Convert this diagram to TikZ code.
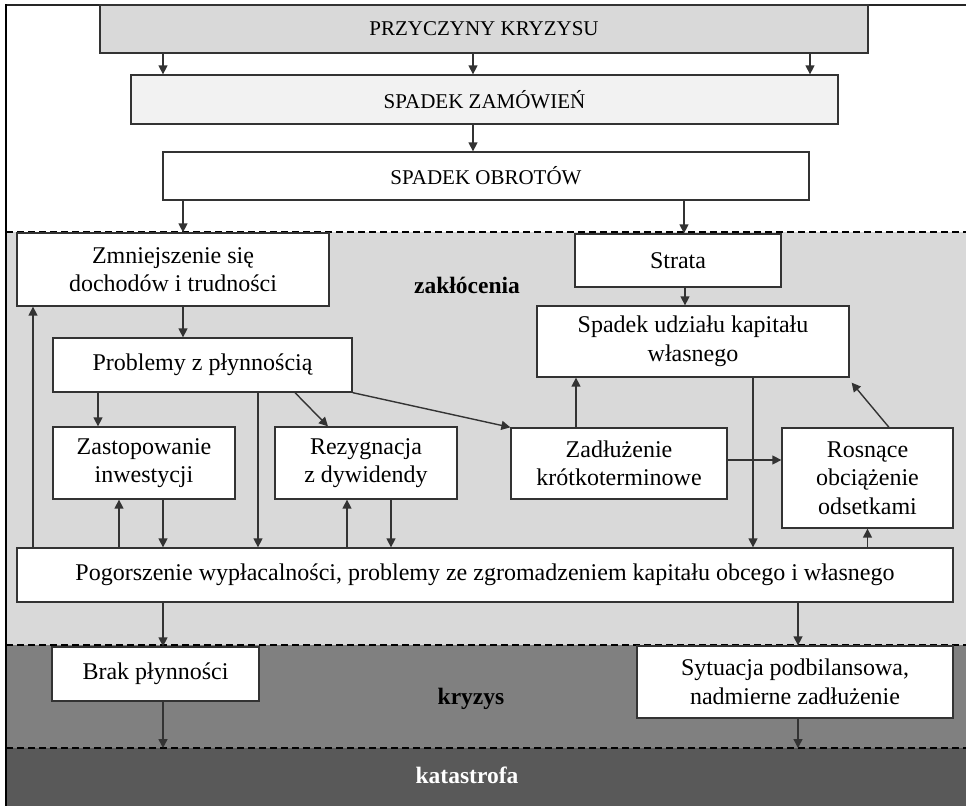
\documentclass[tikz,border=0pt]{standalone}
\usepackage{fontspec}
\setmainfont{Liberation Serif}
\usetikzlibrary{arrows.meta,calc}
\colorlet{colorLine}{black!80}
\colorlet{colorZakl}{gray!30}
\colorlet{colorKryz}{gray}
\colorlet{colorKat}{black!65}
\tikzset{
   every path/.style={>={Triangle[length=9pt,width=9pt]}},
   blok/.style={draw=colorLine,line width=1.3pt,fill=white,align=center,inner sep=0pt,font=\fontsize{24}{28.5}\selectfont},
   gorny/.style={blok,font=\fontsize{21}{25}\selectfont},
   strz/.style={->,draw=colorLine,line width=1.4pt},
   granica/.style={draw=black,line width=1.6pt,dash pattern=on 7pt off 4pt},
   etyk/.style={anchor=base,inner sep=0pt,font=\bfseries\fontsize{23.5}{28}\selectfont},
}
\begin{document}
\begin{tikzpicture}[x=1pt,y=-1pt]
      \useasboundingbox (0,0) rectangle (966,806);
      % strefy
      \fill[colorZakl] (6,232) rectangle (966,645);
      \fill[colorKryz] (6,645) rectangle (966,748);
      \fill[colorKat] (6,748) rectangle (966,806);
      \draw[granica] (6,232) -- (966,232);
      \draw[granica] (6,645) -- (966,645);
      \draw[granica] (6,748) -- (966,748);
      \draw[line width=1.5pt,draw=black!85] (6,5) -- (966,5);
      \draw[line width=2.2pt] (6,4) -- (6,806);
      \coordinate (katgora) at (0,748);
      % etykiety stref
      \node[etyk] (zakl) at (467,293) {zakłócenia};
      \node[etyk] (kryz) at (471,704) {kryzys};
      \node[etyk,text=white] (kat) at (467,783) {katastrofa};
      % bloki
      \node[gorny,fill=colorZakl,minimum width=768,minimum height=48] (przyczyny) at (484,29) {PRZYCZYNY KRYZYSU};
      \node[gorny,fill=gray!10,minimum width=707,minimum height=49] (zamowienia) at (484.5,99.5) {SPADEK ZAMÓWIEŃ};
      \node[gorny,minimum width=646,minimum height=48] (obroty) at (486,176) {SPADEK OBROTÓW};
      \node[blok,minimum width=312,minimum height=73] (dochody) at (173,269.5) {Zmniejszenie się\\dochodów i trudności};
      \node[blok,minimum width=206,minimum height=53] (strata) at (678,260.5) {Strata};
      \node[blok,minimum width=312,minimum height=71] (udzial) at (693,341.5) {Spadek udziału kapitału\\własnego};
      \node[blok,minimum width=299,minimum height=54] (plynnosc) at (202.5,365) {Problemy z płynnością};
      \node[blok,minimum width=182,minimum height=72] (inwest) at (144,463) {Zastopowanie\\inwestycji};
      \node[blok,minimum width=182,minimum height=72] (dywid) at (366,463) {Rezygnacja\\z dywidendy};
      \node[blok,minimum width=216,minimum height=71] (zadluz) at (619,463.5) {Zadłużenie\\krótkoterminowe};
      \node[blok,minimum width=171,minimum height=100] (odsetki) at (867.5,478) {Rosnące\\obciążenie\\odsetkami};
      \node[blok,minimum width=936,minimum height=54] (wyplac) at (485,575) {Pogorszenie wypłacalności, problemy ze zgromadzeniem kapitału obcego i własnego};
      \node[blok,minimum width=207,minimum height=54] (brak) at (155.5,674) {Brak płynności};
      \node[blok,minimum width=316,minimum height=72] (podbil) at (795,682) {Sytuacja podbilansowa,\\nadmierne zadłużenie};
      % strzalki
      \draw[strz] (163,0 |- przyczyny.south) -- (163,0 |- zamowienia.north);
      \draw[strz] (473,0 |- przyczyny.south) -- (473,0 |- zamowienia.north);
      \draw[strz] (810,0 |- przyczyny.south) -- (810,0 |- zamowienia.north);
      \draw[strz] (473,0 |- zamowienia.south) -- (473,0 |- obroty.north);
      \draw[strz] (183,0 |- obroty.south) -- (183,0 |- dochody.north);
      \draw[strz] (684,0 |- obroty.south) -- (684,0 |- strata.north);
      \draw[strz] (685,0 |- strata.south) -- (685,0 |- udzial.north);
      \draw[strz] (183,0 |- dochody.south) -- (183,0 |- plynnosc.north);
      \draw[strz] (98,0 |- plynnosc.south) -- (98,0 |- inwest.north);
      \draw[strz] (295,0 |- plynnosc.south) -- (328,0 |- dywid.north);
      \draw[strz] (plynnosc.south east) -- (zadluz.north west);
      \draw[strz] (258,0 |- plynnosc.south) -- (258,0 |- wyplac.north);
      \draw[strz] (576,0 |- zadluz.north) -- (576,0 |- udzial.south);
      \draw[strz] (zadluz.east |- 0,460) -- (odsetki.west |- 0,460);
      \draw[strz] (889,0 |- odsetki.north) -- ([shift={(2,5)}]udzial.south east);
      \draw[strz] (753,0 |- udzial.south) -- (753,0 |- wyplac.north);
      \draw[strz] (odsetki.south |- wyplac.north) -- (odsetki.south);
      \draw[strz] (33,0 |- wyplac.north) -- (33,0 |- dochody.south);
      \draw[strz] (119,0 |- wyplac.north) -- (119,0 |- inwest.south);
      \draw[strz] (163,0 |- inwest.south) -- (163,0 |- wyplac.north);
      \draw[strz] (347,0 |- wyplac.north) -- (347,0 |- dywid.south);
      \draw[strz] (391,0 |- dywid.south) -- (391,0 |- wyplac.north);
      \draw[strz] (163,0 |- wyplac.south) -- (163,0 |- brak.north);
      \draw[strz] (798,0 |- wyplac.south) -- (798,0 |- podbil.north);
      \draw[strz] (163,0 |- brak.south) -- (163,0 |- katgora);
      \draw[strz] (798,0 |- podbil.south) -- (798,0 |- katgora);
    \end{tikzpicture}
\end{document}
